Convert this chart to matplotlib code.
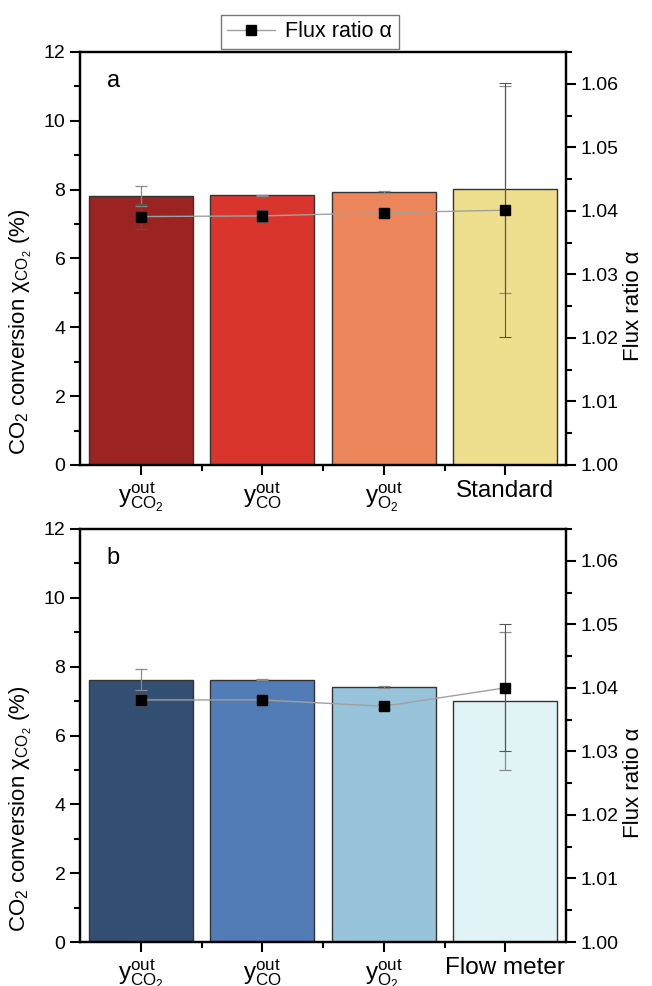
import numpy as np
import matplotlib
matplotlib.use('Agg')
import matplotlib.pyplot as plt
from matplotlib.ticker import MultipleLocator, FixedLocator

plt.rcParams['font.family'] = ['Liberation Sans', 'DejaVu Sans']
plt.rcParams['mathtext.fontset'] = 'custom'
plt.rcParams['mathtext.rm'] = 'Liberation Sans'
plt.rcParams['mathtext.it'] = 'Liberation Sans'
plt.rcParams['mathtext.default'] = 'regular'

### data
labels_a = [r'$y^{out}_{CO_2}$', r'$y^{out}_{CO}$', r'$y^{out}_{O_2}$', 'Standard']
labels_b = [r'$y^{out}_{CO_2}$', r'$y^{out}_{CO}$', r'$y^{out}_{O_2}$', 'Flow meter']

conv_a = [7.82, 7.83, 7.94, 8.01]
conv_err_a = [0.3, 0.02, 0.03, 3.0]
alpha_a = [1.0391, 1.0392, 1.0397, 1.0401]
alpha_err_a = [0.0019, 0.0009, 0.0006, 0.02]

conv_b = [7.62, 7.62, 7.42, 7.01]
conv_err_b = [0.3, 0.02, 0.03, 2.0]
alpha_b = [1.0381, 1.0381, 1.0371, 1.0400]
alpha_err_b = [0.001, 0.0004, 0.0004, 0.01]

colors_a = ['#9B2423', '#D9352D', '#EC865A', '#EEDF8E']
colors_b = ['#344F74', '#517CB5', '#97C4DB', '#E0F3F5']

fig = plt.figure(figsize=(6.52, 9.86), dpi=100)
ax_a = fig.add_axes([0.1227, 0.5284, 0.7454, 0.4189])
ax_b = fig.add_axes([0.1227, 0.0446, 0.7454, 0.4189])


def panel(ax, labels, conv, conv_err, alpha, alpha_err, colors, letter):
    x = np.arange(len(labels))
    ax.bar(x, conv, width=0.86, color=colors, edgecolor='#333333', linewidth=1.0, zorder=2)
    ax.errorbar(x, conv, yerr=conv_err, fmt='none', ecolor='#8a8a8a', elinewidth=0.9,
                capsize=4, capthick=0.9, zorder=3)
    ax.set_xlim(-0.5, 3.5)
    ax.set_ylim(0, 12)
    ax.set_xticks(x)
    ax.set_xticklabels(labels, fontsize=17.5)
    ax.xaxis.set_minor_locator(FixedLocator([0.5, 1.5, 2.5]))
    ax.yaxis.set_major_locator(MultipleLocator(2))
    ax.yaxis.set_minor_locator(MultipleLocator(1))
    ax.tick_params(axis='y', which='major', direction='out', length=7, width=1.5, labelsize=14)
    ax.tick_params(axis='y', which='minor', direction='out', length=4, width=1.5)
    ax.tick_params(axis='x', which='major', direction='out', length=7, width=1.5, pad=4)
    ax.tick_params(axis='x', which='minor', direction='out', length=4, width=1.5)
    for s in ax.spines.values():
        s.set_linewidth(1.6)
    ax.set_ylabel(r'CO$_2$ conversion χ$_{CO_2}$ (%)', fontsize=16)
    ax.yaxis.set_label_coords(-0.095, 0.324)
    ax.text(0.055, 0.915, letter, transform=ax.transAxes, fontsize=17)

    ax2 = ax.twinx()
    line, = ax2.plot(x, alpha, color='#a0a0a0', lw=1.0, marker='s', markersize=7,
                     markerfacecolor='black', markeredgecolor='black', zorder=4)
    ax2.errorbar(x, alpha, yerr=alpha_err, fmt='none', ecolor='#555555', elinewidth=0.8,
                 capsize=4, capthick=0.8, zorder=3)
    ax2.set_ylim(1.0, 1.065)
    ax2.yaxis.set_major_locator(MultipleLocator(0.01))
    ax2.yaxis.set_minor_locator(MultipleLocator(0.005))
    ax2.yaxis.set_major_formatter(plt.FormatStrFormatter('%.2f'))
    ax2.tick_params(axis='y', which='major', direction='out', length=7, width=1.5, labelsize=14)
    ax2.tick_params(axis='y', which='minor', direction='out', length=4, width=1.5)
    for s in ax2.spines.values():
        s.set_linewidth(1.6)
    ax2.set_ylabel('Flux ratio α', fontsize=16)
    ax2.yaxis.set_label_coords(1.118, 0.385)
    return line


line_a = panel(ax_a, labels_a, conv_a, conv_err_a, alpha_a, alpha_err_a, colors_a, 'a')
panel(ax_b, labels_b, conv_b, conv_err_b, alpha_b, alpha_err_b, colors_b, 'b')

leg = fig.legend([line_a], ['Flux ratio α'], loc='center', bbox_to_anchor=(0.475, 0.968),
                 fontsize=15.5, frameon=True, fancybox=False, edgecolor='#555555',
                 handlelength=2.2, borderpad=0.3, handletextpad=0.5)
leg.get_frame().set_linewidth(1.0)

fig.savefig('out.png', dpi=100)
